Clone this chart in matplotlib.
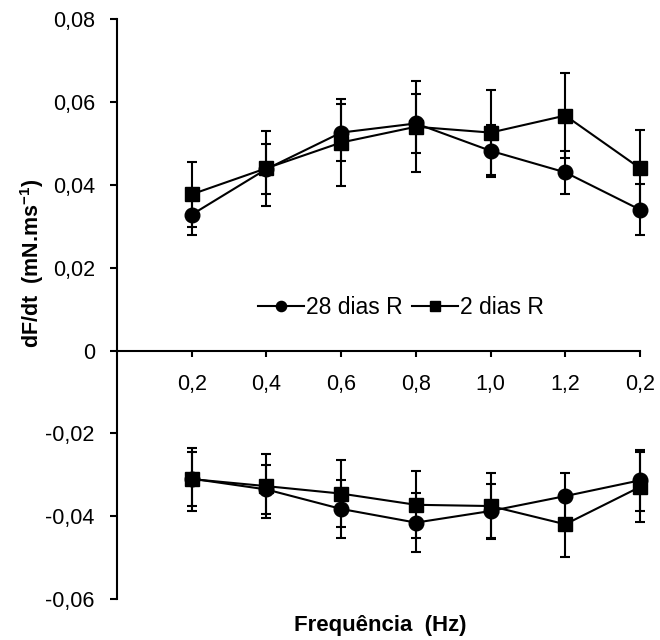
import matplotlib
matplotlib.use("Agg")
import matplotlib.pyplot as plt
import numpy as np

plt.rcParams['font.family'] = ['Liberation Sans', 'DejaVu Sans']
plt.rcParams['mathtext.fontset'] = 'custom'
plt.rcParams['mathtext.rm'] = 'Liberation Sans:bold'
plt.rcParams['mathtext.default'] = 'rm'

# Data
categories = ["0,2", "0,4", "0,6", "0,8", "1,0", "1,2", "0,2"]
series_names = ["28 dias R", "2 dias R"]

pos_28 = [0.0328, 0.0438, 0.0526, 0.0548, 0.0482, 0.0430, 0.0340]
pos_28_err = [0.0049, 0.0060, 0.0069, 0.0071, 0.0062, 0.0052, 0.0061]
pos_2 = [0.0377, 0.0440, 0.0502, 0.0540, 0.0526, 0.0567, 0.0440]
pos_2_err = [0.0078, 0.0091, 0.0104, 0.0110, 0.0103, 0.0103, 0.0093]

neg_28 = [-0.0309, -0.0335, -0.0382, -0.0415, -0.0387, -0.0351, -0.0313]
neg_28_err = [0.0065, 0.0060, 0.0071, 0.0072, 0.0064, 0.0055, 0.0074]
neg_2 = [-0.0310, -0.0327, -0.0345, -0.0372, -0.0375, -0.0419, -0.0329]
neg_2_err = [0.0076, 0.0078, 0.0080, 0.0081, 0.0080, 0.0078, 0.0084]

y_ticks = [-0.06, -0.04, -0.02, 0, 0.02, 0.04, 0.06, 0.08]
y_tick_labels = ["-0,06", "-0,04", "-0,02", "0", "0,02", "0,04", "0,06", "0,08"]

fig = plt.figure(figsize=(6.6, 6.4), dpi=100)
ax = fig.add_axes([117/660, 1-599.3/640, (640-117)/660, (599.3-19)/640])

x = np.arange(1, len(categories) + 1)
FS = 15.5
lw = 1.5
ms = 10.5
cap = 3.8

def draw(vals, errs, marker, label=None):
    _, caps, bars = ax.errorbar(x, vals, yerr=errs, fmt='none', ecolor='black',
                                elinewidth=lw, capsize=cap, capthick=lw, zorder=2)
    for a in list(caps) + list(bars):
        a.set_clip_on(False)
    ln, = ax.plot(x, vals, color='black', lw=lw, marker=marker, ms=ms,
                  mfc='black', mec='black', zorder=3, label=label, clip_on=False)
    return ln

h1 = draw(pos_28, pos_28_err, 'o', series_names[0])
draw(neg_28, neg_28_err, 'o')
h2 = draw(pos_2, pos_2_err, 's', series_names[1])
draw(neg_2, neg_2_err, 's')

for s in ['top', 'right']:
    ax.spines[s].set_visible(False)
ax.spines['bottom'].set_position(('data', 0))
ax.spines['left'].set_linewidth(lw)
ax.spines['bottom'].set_linewidth(lw)

ax.set_xlim(0, 7)
ax.set_ylim(-0.06, 0.08)
ax.set_xticks(x)
ax.set_xticklabels(categories)
ax.set_yticks(y_ticks)
ax.set_yticklabels(y_tick_labels)
ax.tick_params(axis='y', direction='out', length=5, width=lw, pad=11, labelsize=FS)
ax.tick_params(axis='x', direction='out', length=4.5, width=lw, pad=12, labelsize=FS)

leg = ax.legend(handles=[h1, h2], loc='center', bbox_to_anchor=(0.543, 0.502),
                ncol=2, frameon=False, fontsize=16.5, handlelength=2.0,
                handletextpad=0.1, columnspacing=0.4, markerscale=0.7)

fig.text(32/660, 1-263/640, r'dF/dt  (mN.ms$^{-1}$)', rotation=90,
         ha='center', va='center', fontsize=FS, fontweight='bold')
fig.text(380/660, 1-625/640, 'Frequência  (Hz)', ha='center', va='center',
         fontsize=16, fontweight='bold')

fig.savefig('out.png', dpi=100)
